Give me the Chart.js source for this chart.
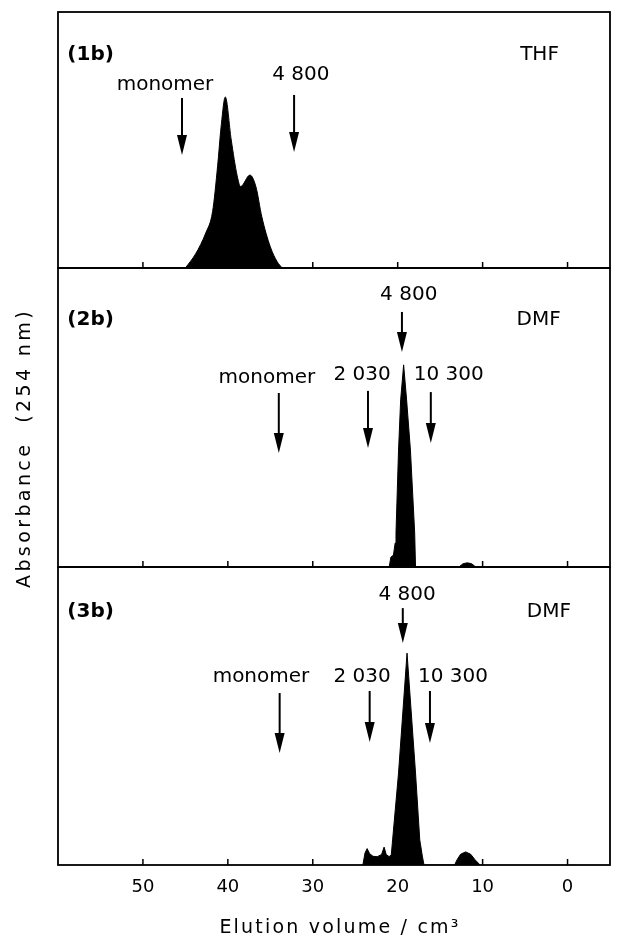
<!DOCTYPE html>
<html>
<head>
<meta charset="utf-8">
<script src="https://cdn.jsdelivr.net/npm/chart.js@4.4.0/dist/chart.umd.min.js"></script>
<style>
  body { margin: 0; background: #fff; }
  #wrap { position: relative; width: 617px; height: 936px; }
  #wrap canvas { position: absolute; left: 0; top: 0; }
</style>
</head>
<body>
<div id="wrap">
  <canvas id="c1" width="617" height="936"></canvas>
  <canvas id="c2" width="617" height="936"></canvas>
  <canvas id="c3" width="617" height="936"></canvas>
</div>
<script>
// Elution volume axis (cm3), runs from 60 down to -5
const tickValues = [50, 40, 30, 20, 10, 0];

// (1b) THF trace
const volumes1 = [45.0, 43.8, 42.6, 41.8, 41.2, 40.8, 40.3, 39.6, 38.9, 38.5, 37.4, 36.7, 36.0, 35.0, 34.2, 33.6];
const absorb1  = [0, 5.5, 13.7, 22, 40, 55, 66.8, 50, 36, 31.8, 36.3, 31.8, 20, 8.3, 2.5, 0];

// (2b) DMF trace
const volumes2 = [21.0, 20.8, 20.5, 20.3, 20.2, 19.9, 19.65, 19.3, 18.95, 18.5, 18.0, 17.9, 12.8, 12.3, 11.8, 11.3, 10.8];
const absorb2  = [0, 3.3, 4, 8, 11.4, 39.1, 55.9, 67.6, 55.9, 39.1, 11.4, 0, 0, 1.1, 1.4, 1.1, 0];

// (3b) DMF trace
const volumes3 = [24.1, 23.85, 23.6, 23.3, 22.9, 22.4, 21.9, 21.6, 21.35, 21.0, 20.75, 20.6, 19.9, 18.9, 17.9, 17.4, 17.1, 16.9,
                  13.3, 13.0, 12.6, 12.0, 11.4, 10.9, 10.3];
const absorb3  = [0, 4, 5.5, 3.8, 2.9, 2.8, 3.5, 6, 3.5, 2.8, 3.5, 8.4, 30.9, 71.1, 30.9, 8.4, 3, 0,
                  0, 1.8, 3.6, 4.4, 3.6, 1.8, 0];

// calibration markers (elution volume of monomer / standards)
const markerLabels1 = ['monomer', '4 800'];
const markerVols1   = [45.4, 32.2];
const markerLabels2 = ['4 800', 'monomer', '2 030', '10 300'];
const markerVols2   = [19.5, 34.0, 23.5, 16.1];
const markerLabels3 = ['4 800', 'monomer', '2 030', '10 300'];
const markerVols3   = [19.4, 33.9, 23.3, 16.2];

const FONT = "'DejaVu Sans', sans-serif";

// where arrows and their labels sit inside each panel (absorbance units)
const layout1 = [
  {top: 66.4, bottom: 44.1, lx: 47.4, ly: 71.5},
  {top: 67.6, bottom: 45.3, lx: 31.4, ly: 75.4}
];
const layout2 = [
  {top: 85.3, bottom: 71.9, lx: 18.7, ly: 91.0},
  {top: 58.2, bottom: 38.1, lx: 35.4, ly: 63.2},
  {top: 58.9, bottom: 39.8, lx: 24.2, ly: 64.2},
  {top: 58.5, bottom: 41.5, lx: 14.0, ly: 64.2}
];
const layout3 = [
  {top: 86.2, bottom: 74.5, lx: 18.9, ly: 90.6},
  {top: 57.7, bottom: 37.6, lx: 36.1, ly: 63.1},
  {top: 58.4, bottom: 41.3, lx: 24.2, ly: 63.1},
  {top: 58.4, bottom: 40.9, lx: 13.5, ly: 63.1}
];

function drawArrow(ctx, x, y1, y2) {
  ctx.lineWidth = 2;
  ctx.beginPath();
  ctx.moveTo(x, y1);
  ctx.lineTo(x, y2 - 12);
  ctx.stroke();
  ctx.beginPath();
  ctx.moveTo(x - 5, y2 - 20);
  ctx.lineTo(x + 5, y2 - 20);
  ctx.lineTo(x, y2);
  ctx.closePath();
  ctx.fill();
}

function panelPlugin(p) {
  return {
    id: 'panel',
    afterDatasetsDraw(chart) {
      const {ctx, chartArea: a} = chart;
      const x = chart.scales.x, y = chart.scales.y;
      ctx.save();
      ctx.strokeStyle = '#000';
      ctx.fillStyle = '#000';

      // frame
      ctx.lineWidth = 1.8;
      ctx.strokeRect(a.left, a.top, a.right - a.left, a.bottom - a.top);

      // ticks point inward
      ctx.lineWidth = 1.5;
      tickValues.forEach(v => {
        const px = x.getPixelForValue(v);
        ctx.beginPath();
        ctx.moveTo(px, a.bottom);
        ctx.lineTo(px, a.bottom - 6);
        ctx.stroke();
      });

      // marker arrows
      ctx.font = `20px ${FONT}`;
      ctx.textAlign = 'center';
      ctx.textBaseline = 'middle';
      p.vols.forEach((v, i) => {
        const l = p.layout[i];
        drawArrow(ctx, x.getPixelForValue(v), y.getPixelForValue(l.top), y.getPixelForValue(l.bottom));
        ctx.fillText(p.labels[i], x.getPixelForValue(l.lx), y.getPixelForValue(l.ly));
      });

      // solvent
      ctx.fillText(p.solvent, x.getPixelForValue(p.solventX), y.getPixelForValue(p.tagY));

      // panel tag
      ctx.font = `bold 20px ${FONT}`;
      ctx.textAlign = 'left';
      ctx.fillText(p.tag, x.getPixelForValue(58.9), y.getPixelForValue(p.tagY));

      if (p.titles) {
        ctx.font = `19px ${FONT}`;
        ctx.textAlign = 'center';
        ctx.letterSpacing = '2.2px';
        ctx.fillText('Elution volume / cm³', 340, 928);
        ctx.translate(25, 448);
        ctx.rotate(-Math.PI / 2);
        ctx.font = `19px ${FONT}`;
        ctx.letterSpacing = '3.4px';
        ctx.fillText('Absorbance  (254 nm)', 0, 0);
      }
      ctx.restore();
    }
  };
}

function makePanel(id, volumes, absorb, p) {
  const showAxis = !!p.titles;
  const xScale = {
    type: 'linear',
    min: -5,
    max: 60,
    reverse: true,
    display: showAxis,
    afterBuildTicks: scale => { scale.ticks = tickValues.map(v => ({value: v})); },
    grid: {display: false, drawTicks: false},
    border: {display: false},
    ticks: {color: '#000', padding: 12, font: {family: FONT, size: 18}}
  };
  if (showAxis) xScale.afterFit = scale => { scale.height = 40; };

  return new Chart(document.getElementById(id), {
    type: 'line',
    data: {
      datasets: [{
        data: volumes.map((v, i) => ({x: v, y: absorb[i]})),
        borderColor: '#000',
        backgroundColor: '#000',
        borderWidth: 1,
        fill: 'origin',
        pointRadius: 0,
        tension: 0,
        cubicInterpolationMode: p.smooth ? 'monotone' : 'default'
      }]
    },
    options: {
      responsive: false,
      animation: false,
      events: [],
      layout: {padding: {left: 58, right: 7, top: p.padTop, bottom: p.padBottom}},
      plugins: {legend: {display: false}, tooltip: {enabled: false}},
      scales: {
        x: xScale,
        y: {min: 0, max: 100, display: false}
      }
    },
    plugins: [panelPlugin(p)]
  });
}

makePanel('c1', volumes1, absorb1, {
  padTop: 12, padBottom: 936 - 268, smooth: true,
  vols: markerVols1, labels: markerLabels1, layout: layout1,
  tag: '(1b)', tagY: 83.2, solvent: 'THF', solventX: 3.3
});
makePanel('c2', volumes2, absorb2, {
  padTop: 268, padBottom: 936 - 567,
  vols: markerVols2, labels: markerLabels2, layout: layout2,
  tag: '(2b)', tagY: 82.6, solvent: 'DMF', solventX: 3.4
});
makePanel('c3', volumes3, absorb3, {
  padTop: 567, padBottom: 936 - 865 - 40,
  vols: markerVols3, labels: markerLabels3, layout: layout3,
  tag: '(3b)', tagY: 85.0, solvent: 'DMF', solventX: 2.2,
  titles: true
});
</script>
</body>
</html>
